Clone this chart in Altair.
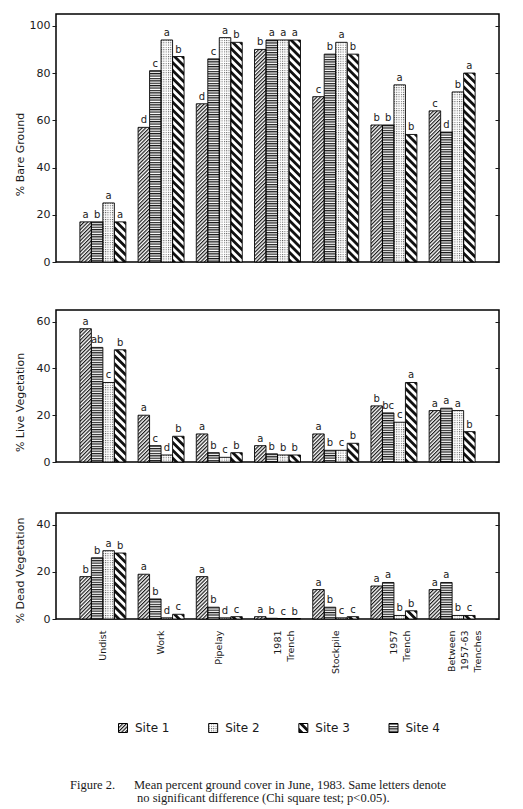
import urllib.parse
import pandas as pd
import altair as alt

categories = ["Undist", "Work", "Pipelay", "1981 Trench", "Stockpile",
              "1957 Trench", "Between 1957-63 Trenches"]
sites = ["Site 1", "Site 2", "Site 3", "Site 4"]
bar_order = ["Site 1", "Site 4", "Site 2", "Site 3"]

# % bare ground
bare_s1 = [17, 57, 67, 90, 70, 58, 64]
bare_s2 = [25, 94, 95, 94, 93, 75, 72]
bare_s3 = [17, 87, 93, 94, 88, 54, 80]
bare_s4 = [17, 81, 86, 94, 88, 58, 55]
bare_l1 = ["a", "d", "d", "b", "c", "b", "c"]
bare_l2 = ["a", "a", "a", "a", "a", "a", "b"]
bare_l3 = ["a", "b", "b", "a", "b", "b", "a"]
bare_l4 = ["b", "c", "c", "a", "b", "b", "d"]

# % live vegetation
live_s1 = [57, 20, 12, 7, 12, 24, 22]
live_s2 = [34, 3, 2, 3, 5, 17, 22]
live_s3 = [48, 11, 4, 3, 8, 34, 13]
live_s4 = [49, 7, 4, 3.5, 5, 21, 23]
live_l1 = ["a", "a", "a", "a", "a", "b", "a"]
live_l2 = ["c", "d", "c", "b", "c", "c", "a"]
live_l3 = ["b", "b", "b", "b", "b", "a", "b"]
live_l4 = ["ab", "c", "b", "b", "b", "bc", "a"]

# % dead vegetation
dead_s1 = [18, 19, 18, 1, 12.5, 14, 12.5]
dead_s2 = [29, 0.5, 0.5, 0.2, 0.5, 1.5, 1.5]
dead_s3 = [28, 2, 1, 0.2, 1, 3.5, 1.5]
dead_s4 = [26, 8.5, 5, 0.3, 5, 15.5, 15.5]
dead_l1 = ["b", "a", "a", "a", "a", "a", "a"]
dead_l2 = ["a", "d", "d", "c", "c", "b", "b"]
dead_l3 = ["b", "c", "c", "b", "c", "b", "c"]
dead_l4 = ["b", "b", "b", "b", "b", "a", "a"]

caption_head = "Figure 2."
caption_line1 = "Mean percent ground cover in June, 1983. Same letters denote"
caption_line2 = "no significant difference (Chi square test; p<0.05)."

FONT = "DejaVu Sans"
INK = "#1a1a1a"
W = 443


def pattern_uri(body, size, angle):
    # svg with no viewBox so the hatching keeps its pixel size when stretched
    svg = ("<svg xmlns='http://www.w3.org/2000/svg' width='100%' height='100%'>"
           "<defs><pattern id='p' patternUnits='userSpaceOnUse' "
           f"width='{size}' height='{size}' patternTransform='rotate({angle})'>"
           f"{body}</pattern></defs>"
           "<rect width='100%' height='100%' fill='#ffffff'/>"
           "<rect width='100%' height='100%' fill='url(#p)'/></svg>")
    return "data:image/svg+xml;charset=utf-8," + urllib.parse.quote(svg)


patterns = {
    "Site 1": pattern_uri("<rect width='1.2' height='2.6' fill='#1a1a1a'/>", 2.6, 45),
    "Site 2": pattern_uri("<rect width='1' height='1' fill='#555'/>", 2.3, 0),
    "Site 3": pattern_uri("<rect width='2.8' height='5.6' fill='#111'/>", 5.6, -45),
    "Site 4": pattern_uri("<rect width='2.4' height='1.2' fill='#1a1a1a'/>", 2.4, 0),
}


def make_frame(vals, lets):
    rows = []
    for site, v_list, l_list in zip(sites, vals, lets):
        for cat, v, l in zip(categories, v_list, l_list):
            rows.append({"category": cat, "site": site, "value": v,
                         "letter": l, "img": patterns[site]})
    return pd.DataFrame(rows)


def panel(df, title, ymax, ticks, height, title_y, show_x):
    if show_x:
        xaxis = alt.Axis(title=None, labelAngle=-90, labelAlign="right",
                         labelBaseline="middle", labelExpr="split(datum.label, ' ')",
                         ticks=False, domain=False, labelPadding=11, labelFont=FONT,
                         labelFontSize=9.5, labelColor=INK, labelLineHeight=13)
    else:
        xaxis = None
    x = alt.X("category:N", sort=categories, axis=xaxis,
              scale=alt.Scale(paddingInner=0.21, paddingOuter=0.41))
    xo = alt.XOffset("site:N", sort=bar_order,
                     scale=alt.Scale(paddingInner=0, paddingOuter=0))
    yscale = alt.Scale(domain=[0, ymax], nice=False)

    left_axis = alt.Axis(title=title, values=ticks, domain=False, grid=False,
                         tickSize=4, tickColor=INK, labelPadding=2, labelFont=FONT,
                         labelFontSize=11, labelColor=INK, minExtent=26, maxExtent=26,
                         titlePadding=5, titleY=title_y, titleFont=FONT,
                         titleFontSize=11, titleFontWeight="normal", titleColor=INK)
    right_axis = alt.Axis(orient="right", values=ticks, labels=False, title=None,
                          domain=False, grid=False, tickSize=4, tickColor=INK, offset=-4)

    base = alt.Chart(df).encode(x=x, xOffset=xo)
    fills = base.mark_image(aspect=False).encode(
        y=alt.Y("value:Q", scale=yscale, axis=left_axis),
        y2=alt.datum(0),
        url="img:N",
    )
    outline = base.mark_bar(fillOpacity=0, stroke="black", strokeWidth=0.9).encode(
        y=alt.Y("value:Q", scale=yscale, axis=None),
        y2=alt.datum(0),
    )
    letters = base.mark_text(baseline="bottom", dy=-2, font=FONT, fontSize=10,
                             color=INK).encode(
        y=alt.Y("value:Q", scale=yscale, axis=right_axis),
        text="letter:N",
    )
    return alt.layer(fills, outline, letters).resolve_axis(y="independent").properties(
        width=W, height=height)


bare = make_frame([bare_s1, bare_s2, bare_s3, bare_s4],
                  [bare_l1, bare_l2, bare_l3, bare_l4])
live = make_frame([live_s1, live_s2, live_s3, live_s4],
                  [live_l1, live_l2, live_l3, live_l4])
dead = make_frame([dead_s1, dead_s2, dead_s3, dead_s4],
                  [dead_l1, dead_l2, dead_l3, dead_l4])

p1 = panel(bare, "% Bare Ground", 105, [0, 20, 40, 60, 80, 100], 248, 140, False)
p2 = panel(live, "% Live Vegetation", 65, [0, 20, 40, 60], 152, 92, False)
p3 = panel(dead, "% Dead Vegetation", 45, [0, 20, 40], 106, 57, True)

# legend and caption
leg = pd.DataFrame({"site": sites, "img": [patterns[s] for s in sites]})
lx = alt.X("site:N", sort=sites, axis=None,
           scale=alt.Scale(type="point", range=[67, 337.5], padding=0))
swatch = alt.Chart(leg).mark_image(width=9, height=9, aspect=False, align="center",
                                   baseline="middle").encode(
    x=lx, y=alt.value(6), url="img:N")
box = alt.Chart(leg).mark_square(size=81, filled=False, color="black",
                                 strokeWidth=1, opacity=1).encode(x=lx, y=alt.value(6))
names = alt.Chart(leg).mark_text(align="left", baseline="middle", dx=12, font=FONT,
                                 fontSize=12, color=INK).encode(
    x=lx, y=alt.value(6), text="site:N")


def caption(txt, xpos, ypos):
    return alt.Chart(pd.DataFrame({"t": [txt]})).mark_text(
        align="left", baseline="middle", font="Liberation Serif", fontSize=12.5,
        color=INK).encode(text="t:N", x=alt.value(xpos), y=alt.value(ypos))


bottom = alt.layer(
    swatch, box, names,
    caption(caption_head, 14, 63),
    caption(caption_line1, 78, 63),
    caption(caption_line2, 81, 76),
).properties(width=W, height=70, view=alt.ViewBackground(stroke="transparent"))

lower = alt.vconcat(p2, p3, spacing=44)
panels = alt.vconcat(p1, lower, spacing=41)
chart = alt.vconcat(panels, bottom, spacing=45).properties(
    padding={"left": 5, "top": 5, "right": 5, "bottom": 0}
).configure_view(stroke="black", strokeWidth=1.5)

chart.save("out.html", embed_options={"renderer": "svg", "actions": False})
